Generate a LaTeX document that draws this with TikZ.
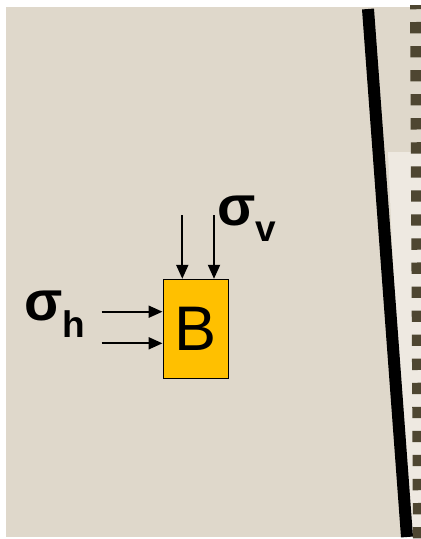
\documentclass[tikz,border=0pt]{standalone}
\usepackage{fontspec}
\setmainfont{Liberation Sans}
\usetikzlibrary{arrows.meta}
\definecolor{bgc}{HTML}{DFD8CB}
\definecolor{lightc}{HTML}{EEE9E1}
\definecolor{sqc}{HTML}{4E4631}
\definecolor{boxc}{HTML}{FFC000}
\tikzset{
  arr/.style={line width=2pt,-{Triangle[length=14pt,width=12pt]}},
  sig/.style={anchor=base west,inner sep=0pt,font=\fontsize{56}{56}\selectfont\bfseries},
  boxnode/.style={draw=black,line width=1pt,fill=boxc,minimum width=65pt,minimum height=99pt,inner sep=0pt,font=\fontsize{63}{63}\selectfont}
}
\begin{document}
\begin{tikzpicture}[x=1pt,y=-1pt]
\useasboundingbox (0,0) rectangle (421,539);
\fill[white] (0,0) rectangle (421,539);
\fill[bgc] (6,7) rectangle (421,537);
\fill[lightc] (388,152) -- (421,152) -- (421,537) -- (405,537) -- cycle;
\draw[line width=12pt] (368,9) -- (407,537);
\begin{scope}
\clip (0,5) rectangle (421,539);
\draw[sqc,line width=11pt,dash pattern=on 11.3pt off 12.75pt] (415.5,-2.05) -- (418.5,545);
\end{scope}
\node[boxnode] (B) at (195.5,328.8) {B};
\coordinate (v1) at (182.3,215);
\coordinate (v2) at (214,215);
\coordinate (h1) at (101.7,311.7);
\coordinate (h2) at (101.7,343.3);
\draw[arr] (v1) -- (v1 |- B.north);
\draw[arr] (v2) -- (v2 |- B.north);
\draw[arr] (h1) -- (h1 -| B.west);
\draw[arr] (h2) -- (h2 -| B.west);
\node[sig] (sv) at (217,225) {σ\raisebox{-16pt}{\fontsize{37}{37}\selectfont v}};
\node[sig] (sh) at (24,320) {σ\raisebox{-17pt}{\fontsize{37}{37}\selectfont h}};
\end{tikzpicture}
\end{document}
